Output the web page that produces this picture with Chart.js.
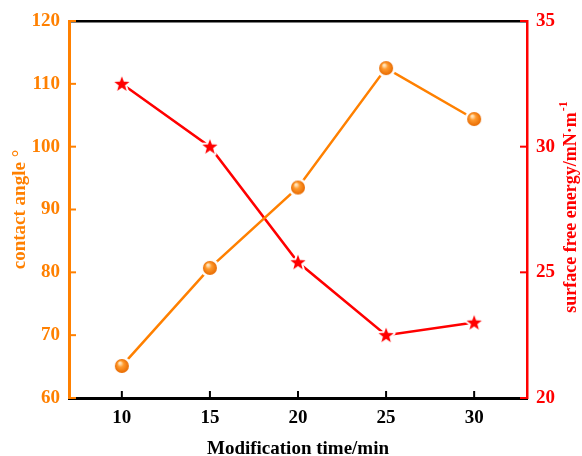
<!DOCTYPE html>
<html>
<head>
<meta charset="utf-8">
<script src="https://cdn.jsdelivr.net/npm/chart.js@4"></script>
<style>
  html, body { margin: 0; padding: 0; background: #fff; }
  #wrap { width: 582px; height: 456px; }
</style>
</head>
<body>
<div id="wrap"><canvas id="myChart"></canvas></div>
<script>
// data
var times = [10, 15, 20, 25, 30];
var contactAngle = [65.1, 80.7, 93.5, 112.5, 104.4];
var surfaceEnergy = [32.5, 30.0, 25.4, 22.5, 23.0];
var angleTicks = [60, 70, 80, 90, 100, 110, 120];
var energyTicks = [20, 25, 30, 35];

var ORANGE = '#FF8000';
var RED = '#FF0000';
var FONT = 'Liberation Serif, Times New Roman, serif';

// orange ball marker
function makeBall() {
    var c = document.createElement('canvas');
    c.width = 20; c.height = 20;
    var g = c.getContext('2d');
    g.fillStyle = '#fff';
    g.beginPath(); g.arc(10, 10, 9.5, 0, Math.PI * 2); g.fill();
    var grad = g.createRadialGradient(8, 7, 1, 10, 10, 7);
    grad.addColorStop(0, '#FFE2B8');
    grad.addColorStop(0.35, '#FF9A2E');
    grad.addColorStop(1, '#E86A00');
    g.fillStyle = grad;
    g.beginPath(); g.arc(10, 10, 7, 0, Math.PI * 2); g.fill();
    return c;
}

// red star marker
function makeStar() {
    var c = document.createElement('canvas');
    c.width = 22; c.height = 22;
    var g = c.getContext('2d');
    g.beginPath();
    for (var i = 0; i < 10; i++) {
        var r = i % 2 === 0 ? 8 : 3.3;
        var a = -Math.PI / 2 + i * Math.PI / 5;
        var px = 11 + r * Math.cos(a), py = 11.5 + r * Math.sin(a);
        if (i === 0) g.moveTo(px, py); else g.lineTo(px, py);
    }
    g.closePath();
    g.strokeStyle = '#fff';
    g.lineWidth = 4;
    g.lineJoin = 'round';
    g.stroke();
    g.fillStyle = RED;
    g.fill();
    return c;
}

// ticks pointing into the plot + right axis title (reads bottom to top)
var axisExtras = {
    id: 'axisExtras',
    afterDraw: function (chart) {
        var g = chart.ctx;
        var a = chart.chartArea;
        var len = 7;
        g.save();
        g.lineWidth = 2;
        g.strokeStyle = '#000';
        chart.scales.x.ticks.forEach(function (t) {
            var px = chart.scales.x.getPixelForValue(t.value);
            g.beginPath(); g.moveTo(px, a.bottom); g.lineTo(px, a.bottom - len); g.stroke();
        });
        g.strokeStyle = ORANGE;
        chart.scales.y.ticks.forEach(function (t) {
            var py = chart.scales.y.getPixelForValue(t.value);
            g.beginPath(); g.moveTo(a.left, py); g.lineTo(a.left + len, py); g.stroke();
        });
        g.strokeStyle = RED;
        chart.scales.y2.ticks.forEach(function (t) {
            var py = chart.scales.y2.getPixelForValue(t.value);
            g.beginPath(); g.moveTo(a.right, py); g.lineTo(a.right - len, py); g.stroke();
        });

        // right title
        var main = 'surface free energy/mN·m';
        var sup = '-1';
        g.translate(571, (a.top + a.bottom) / 2 - 2);
        g.rotate(-Math.PI / 2);
        g.fillStyle = RED;
        g.textBaseline = 'middle';
        g.font = 'bold 18px ' + FONT;
        var w1 = g.measureText(main).width;
        g.font = 'bold 12px ' + FONT;
        var w2 = g.measureText(sup).width;
        var x0 = -(w1 + w2) / 2;
        g.font = 'bold 18px ' + FONT;
        g.textAlign = 'left';
        g.fillText(main, x0, 0);
        g.font = 'bold 12px ' + FONT;
        g.fillText(sup, x0 + w1 + 1, -7);
        g.restore();
    }
};

var ctx = document.getElementById('myChart').getContext('2d');

var myChart = new Chart(ctx, {
    type: 'line',
    data: {
        datasets: [{
            label: 'contact angle',
            data: times.map(function (t, i) { return { x: t, y: contactAngle[i] }; }),
            yAxisID: 'y',
            borderColor: ORANGE,
            borderWidth: 2.5,
            pointStyle: makeBall(),
            pointRadius: 10,
            fill: false,
            tension: 0
        }, {
            label: 'surface free energy',
            data: times.map(function (t, i) { return { x: t, y: surfaceEnergy[i] }; }),
            yAxisID: 'y2',
            borderColor: RED,
            borderWidth: 2.5,
            pointStyle: makeStar(),
            pointRadius: 11,
            fill: false,
            tension: 0
        }]
    },
    plugins: [axisExtras],
    options: {
        responsive: true,
        maintainAspectRatio: false,
        animation: false,
        layout: { padding: 0 },
        plugins: {
            legend: { display: false },
            tooltip: { enabled: false }
        },
        scales: {
            x: {
                type: 'linear',
                position: 'bottom',
                min: 7,
                max: 33,
                afterBuildTicks: function (axis) {
                    axis.ticks = times.map(function (v) { return { value: v }; });
                },
                afterFit: function (scale) { scale.height = 58; },
                border: { color: '#000', width: 3 },
                grid: { drawOnChartArea: false, drawTicks: false },
                ticks: { color: '#000', padding: 9, font: { family: FONT, size: 19, weight: 'bold' } },
                title: {
                    display: true,
                    text: 'Modification time/min',
                    color: '#000',
                    padding: { top: 0, bottom: -3 },
                    font: { family: FONT, size: 19, weight: 'bold', lineHeight: 1 }
                }
            },
            xTop: {
                type: 'linear',
                position: 'top',
                min: 7,
                max: 33,
                afterFit: function (scale) { scale.height = 21; },
                border: { color: '#000', width: 2.5 },
                grid: { drawOnChartArea: false, drawTicks: false },
                ticks: { display: false }
            },
            y: {
                position: 'left',
                min: 60,
                max: 120,
                afterBuildTicks: function (axis) {
                    axis.ticks = angleTicks.map(function (v) { return { value: v }; });
                },
                afterFit: function (scale) { scale.width = 69; },
                border: { color: ORANGE, width: 3 },
                grid: { drawOnChartArea: false, drawTicks: false },
                ticks: { color: ORANGE, padding: 9, font: { family: FONT, size: 19, weight: 'bold' } },
                title: {
                    display: true,
                    text: 'contact angle °',
                    color: ORANGE,
                    padding: { top: 9, bottom: 0 },
                    font: { family: FONT, size: 19, weight: 'bold' }
                }
            },
            y2: {
                position: 'right',
                min: 20,
                max: 35,
                afterBuildTicks: function (axis) {
                    axis.ticks = energyTicks.map(function (v) { return { value: v }; });
                },
                afterFit: function (scale) { scale.width = 55; },
                border: { color: RED, width: 2.5 },
                grid: { drawOnChartArea: false, drawTicks: false },
                ticks: { color: RED, padding: 9, font: { family: FONT, size: 19, weight: 'bold' } }
            }
        }
    }
});
</script>
</body>
</html>
